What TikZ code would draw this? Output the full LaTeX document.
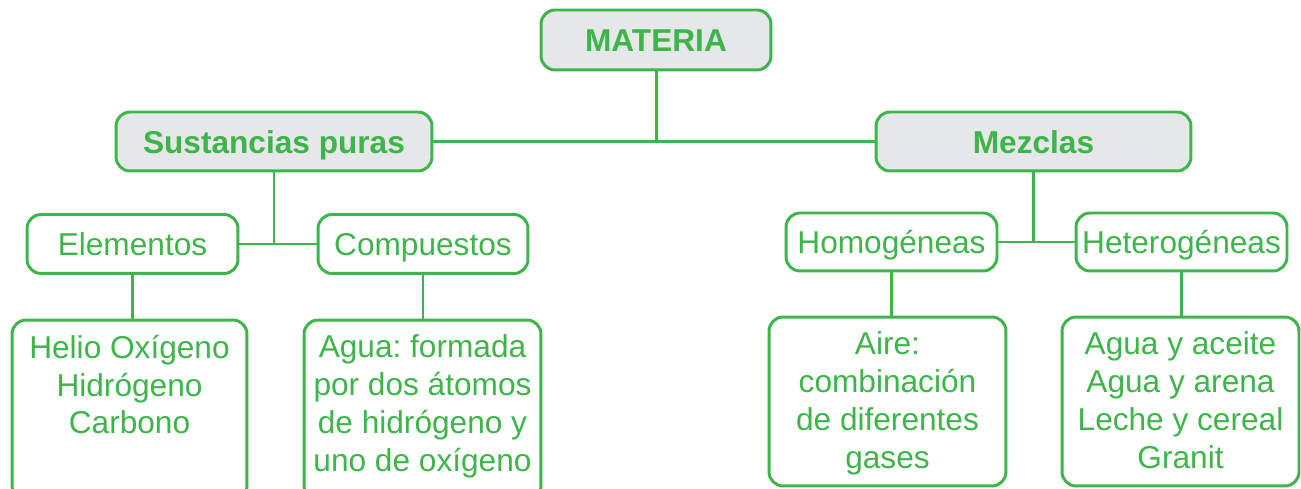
\documentclass[tikz,border=0pt]{standalone}
\usepackage{fontspec}
\setmainfont{Liberation Sans}
\frenchspacing
\definecolor{verde}{RGB}{61,181,74}
\definecolor{gris}{RGB}{230,231,232}
\tikzset{
  caja/.style={draw=verde, line width=1.7pt, rounded corners=8pt, text=verde,
    font=\fontsize{18}{21.5}\selectfont, inner sep=0pt, align=center},
  rama/.style={caja, text height=17.5pt, text depth=4pt},
  titulo/.style={rama, fill=gris, font=\fontsize{18}{21.5}\selectfont\bfseries},
  linea/.style={draw=verde, line width=1.7pt}
}
\newcommand{\hoja}[2]{\parbox[c][#1][t]{4.6cm}{\centering #2}}
\begin{document}
\begin{tikzpicture}[x=0.02cm,y=-0.02cm]
      \useasboundingbox (0,0) rectangle (1301,489);
      \clip (0,0) rectangle (1301,489);
      \node[titulo, minimum width=4.6cm, minimum height=1.2cm] (materia) at (656,40) {MATERIA};
      \node[titulo, minimum width=6.32cm, minimum height=1.18cm] (puras) at (274,141.5) {Sustancias puras};
      \node[titulo, minimum width=6.3cm, minimum height=1.18cm] (mezclas) at (1033.5,141.5) {Mezclas};
      \node[rama, minimum width=4.22cm, minimum height=1.18cm] (elementos) at (132.5,244) {Elementos};
      \node[rama, minimum width=4.2cm, minimum height=1.18cm] (compuestos) at (423,244) {Compuestos};
      \node[rama, minimum width=4.22cm, minimum height=1.16cm] (homogeneas) at (891.5,242) {Homogéneas};
      \node[rama, minimum width=4.22cm, minimum height=1.16cm] (heterogeneas) at (1181.5,242) {Heterogéneas};
      \node[caja, minimum width=4.7cm, minimum height=3.6cm] (helio) at (129.5,410)
        {\hoja{3.0cm}{Helio Oxígeno\\Hidrógeno\\Carbono}};
      \node[caja, minimum width=4.74cm, minimum height=3.6cm] (agua) at (422.5,410)
        {\hoja{3.0cm}{Agua: formada\\por dos átomos\\de hidrógeno y\\uno de oxígeno}};
      \node[caja, minimum width=4.74cm, minimum height=3.38cm] (aire) at (887.5,401.5)
        {\hoja{2.78cm}{Aire:\\combinación\\de diferentes\\gases}};
      \node[caja, minimum width=4.74cm, minimum height=3.38cm] (granit) at (1180.5,401.5)
        {\hoja{2.78cm}{Agua y aceite\\Agua y arena\\Leche y cereal\\Granit}};
      % conectores
      \draw[linea] (materia.south) -- (materia.south |- puras.east);
      \draw[linea] (puras.east) -- (mezclas.west);
      \draw[linea] (puras.south) -- (puras.south |- elementos.east);
      \draw[linea] (elementos.east) -- (compuestos.west);
      \draw[linea] (mezclas.south) -- (mezclas.south |- homogeneas.east);
      \draw[linea] (homogeneas.east) -- (heterogeneas.west);
      \draw[linea] (elementos.south) -- (elementos.south |- helio.north);
      \draw[linea] (compuestos.south) -- (compuestos.south |- agua.north);
      \draw[linea] (homogeneas.south) -- (homogeneas.south |- aire.north);
      \draw[linea] (heterogeneas.south) -- (heterogeneas.south |- granit.north);
    \end{tikzpicture}
\end{document}
